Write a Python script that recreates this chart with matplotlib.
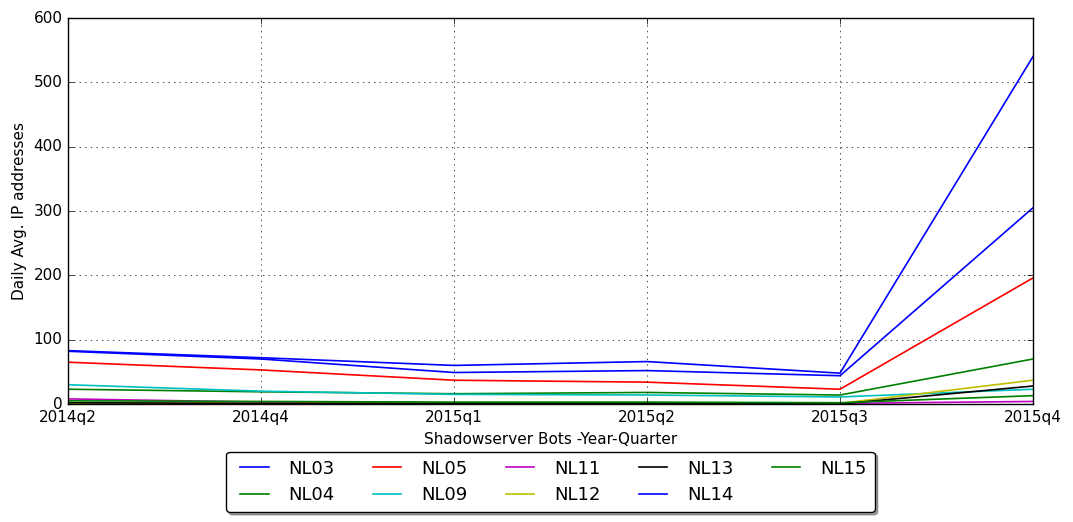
import matplotlib
matplotlib.use("Agg")
import matplotlib.pyplot as plt

plt.style.use("classic")
plt.rcParams["figure.facecolor"] = "white"
plt.rcParams["savefig.facecolor"] = "white"

quarters = ["2014q2", "2014q4", "2015q1", "2015q2", "2015q3", "2015q4"]

nl03 = [83, 72, 60, 66, 48, 540]
nl04 = [23, 19, 16, 18, 14, 70]
nl05 = [65, 53, 37, 34, 23, 196]
nl09 = [30, 20, 15, 14, 11, 23]
nl11 = [8, 3, 2, 2, 1, 4]
nl12 = [1, 1, 1, 1, 1, 37]
nl13 = [2, 1, 1, 1, 0, 28]
nl14 = [82, 70, 49, 52, 44, 305]
nl15 = [5, 4, 3, 3, 2, 13]

series = [("NL03", nl03, "b"), ("NL04", nl04, "g"), ("NL05", nl05, "r"),
          ("NL09", nl09, "c"), ("NL11", nl11, "m"), ("NL12", nl12, "y"),
          ("NL13", nl13, "k"), ("NL14", nl14, "b"), ("NL15", nl15, "g")]

fig = plt.figure(figsize=(10.73, 5.22), dpi=100)
ax = fig.add_axes([0.0634, 0.226, 0.8993, 0.7395])
x = list(range(len(quarters)))
for name, vals, col in series:
    ax.plot(x, vals, color=col, lw=1.2, label=name)

ax.set_xticks(x)
ax.set_xticklabels(quarters)
ax.set_xlim(0, len(quarters) - 1)
ax.set_ylim(0, 600)
ax.grid(True)
ax.tick_params(labelsize=11)
ax.set_xlabel("Shadowserver Bots -Year-Quarter", fontsize=11, labelpad=5)
ax.set_ylabel("Daily Avg. IP addresses", fontsize=11)
ax.legend(loc="upper center", bbox_to_anchor=(0.5, -0.1), ncol=5,
          fontsize=13, shadow=True, fancybox=True, handlelength=2.2,
          columnspacing=1.8, borderpad=0.45, labelspacing=0.45)

fig.savefig("out.png", dpi=100)
